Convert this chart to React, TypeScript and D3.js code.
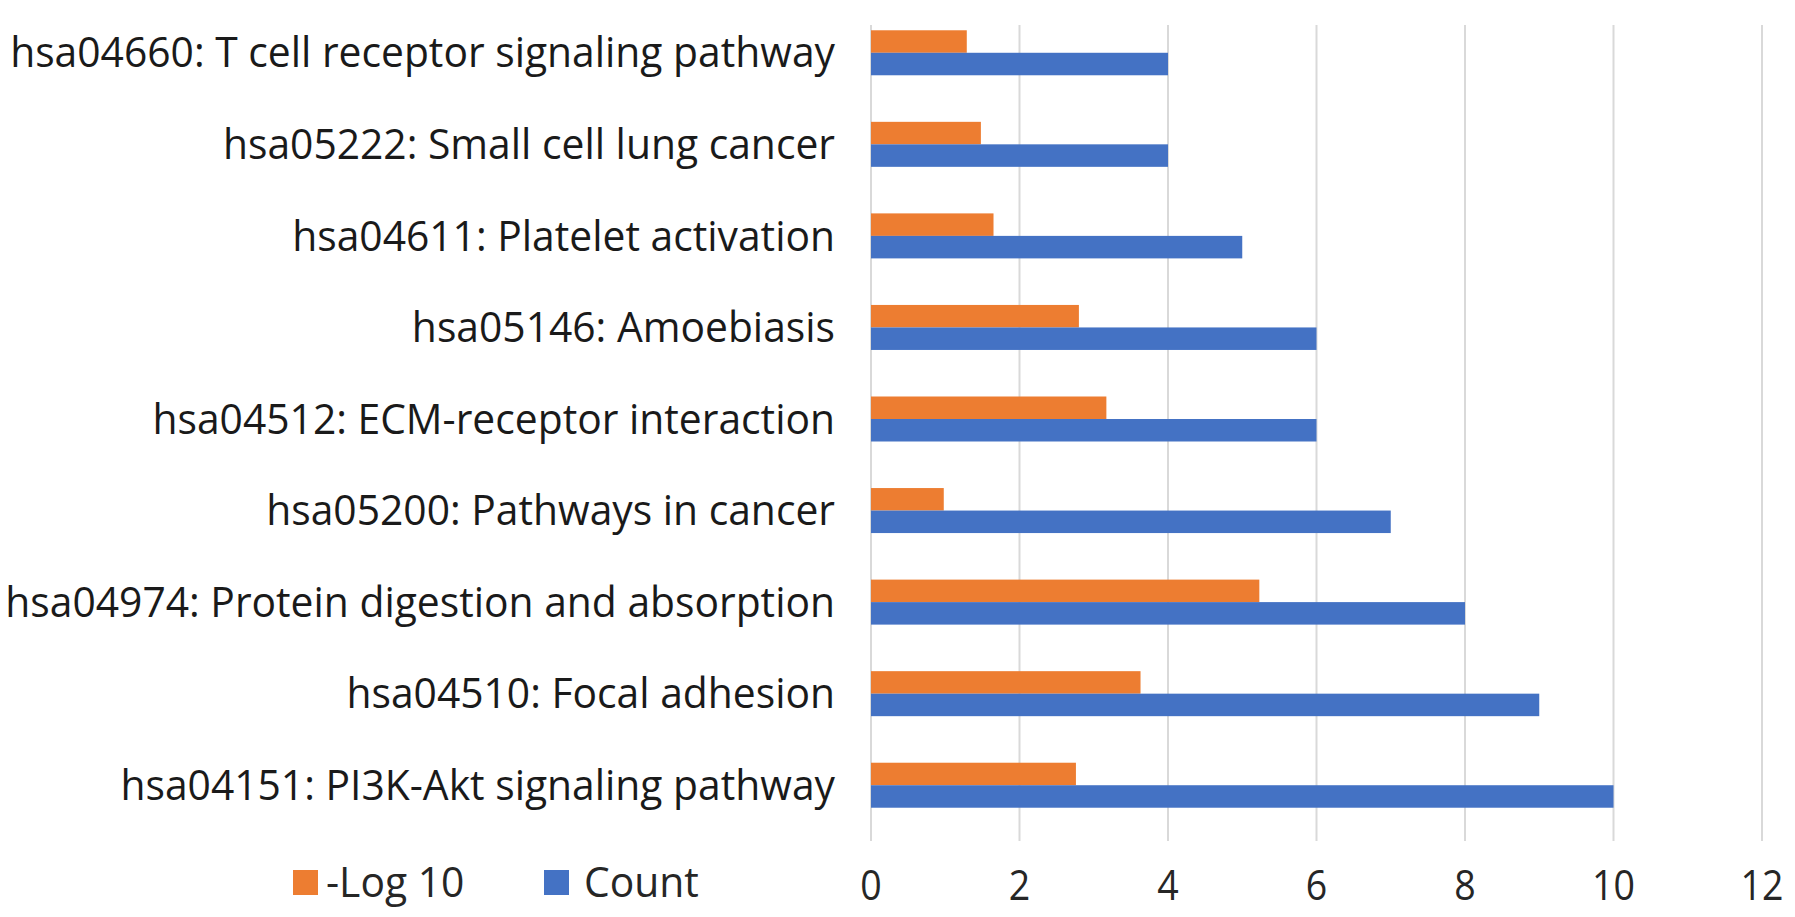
import { useRef, useEffect } from 'react';
import * as d3 from 'd3';

// categories top-to-bottom as they appear
const pathways = [
  'hsa04660: T cell receptor signaling pathway',
  'hsa05222: Small cell lung cancer',
  'hsa04611: Platelet activation',
  'hsa05146: Amoebiasis',
  'hsa04512: ECM-receptor interaction',
  'hsa05200: Pathways in cancer',
  'hsa04974: Protein digestion and absorption',
  'hsa04510: Focal adhesion',
  'hsa04151: PI3K-Akt signaling pathway',
];
const negLog10 = [1.29, 1.48, 1.65, 2.8, 3.17, 0.98, 5.23, 3.63, 2.76];
const counts = [4, 4, 5, 6, 6, 7, 8, 9, 10];
const seriesNames = ['-Log 10', 'Count'];
const xTicks = [0, 2, 4, 6, 8, 10, 12];

const ORANGE = '#ED7D31';
const BLUE = '#4472C4';
const FONT = '"Open Sans", "Noto Sans", sans-serif';

export default function App() {
  const svgRef = useRef<SVGSVGElement>(null);

  useEffect(() => {
    document.body.style.margin = '0';
    if (!svgRef.current) return;
    const svg = d3.select(svgRef.current);
    svg.selectAll('*').remove();

    const W = 1795, H = 917;
    const plotLeft = 871, plotRight = 1762;
    const gridTop = 25, gridBottom = 841;
    const fs = 42;

    const x = d3.scaleLinear().domain([0, 12]).range([plotLeft, plotRight]);
    const y = d3.scaleBand().domain(pathways).range([7, 831]).padding(0);
    const bw = y.bandwidth();
    const y1 = d3.scaleBand().domain(seriesNames).range([bw / 2 - 22.5, bw / 2 + 22.5]).padding(0);

    svg.append('rect').attr('width', W).attr('height', H).attr('fill', '#fff');

    // gridlines
    svg.append('g')
      .selectAll('line')
      .data(xTicks)
      .join('line')
      .attr('x1', d => x(d)).attr('x2', d => x(d))
      .attr('y1', gridTop).attr('y2', gridBottom)
      .attr('stroke', '#D9D9D9')
      .attr('stroke-width', 2);

    const rows = pathways.map((p, i) => ({ p, vals: [negLog10[i], counts[i]] }));
    const colors = [ORANGE, BLUE];

    const groups = svg.append('g')
      .selectAll('g')
      .data(rows)
      .join('g')
      .attr('transform', d => `translate(0,${y(d.p)})`);

    groups.selectAll('rect')
      .data(d => d.vals.map((v, k) => ({ v, k })))
      .join('rect')
      .attr('x', x(0))
      .attr('y', d => y1(seriesNames[d.k])!)
      .attr('width', d => x(d.v) - x(0))
      .attr('height', y1.bandwidth())
      .attr('fill', d => colors[d.k]);

    // category labels, squeezed horizontally to mimic a condensed face
    const labelG = svg.append('g');
    const labels = labelG.selectAll('text')
      .data(pathways)
      .join('text')
      .attr('x', 0)
      .attr('y', d => y(d)! + bw / 2)
      .attr('dy', '0.35em')
      .attr('text-anchor', 'end')
      .attr('fill', '#1a1a1a')
      .attr('font-size', fs)
      .attr('font-family', FONT)
      .text(d => d);
    let maxW = 0;
    labels.each(function () {
      maxW = Math.max(maxW, (this as SVGTextElement).getComputedTextLength());
    });
    const sx = maxW > 0 ? 830 / maxW : 1;
    labelG.attr('transform', `translate(835,0) scale(${sx},1)`);

    // x tick labels
    const tickG = svg.append('g').attr('transform', `translate(0,885)`);
    tickG.selectAll('text')
      .data(xTicks)
      .join('text')
      .attr('x', d => x(d))
      .attr('dy', '0.35em')
      .attr('text-anchor', 'middle')
      .attr('fill', '#262626')
      .attr('font-size', fs)
      .attr('font-family', FONT)
      .attr('transform', d => `translate(${x(d)},0) scale(${sx * 0.92},1) translate(${-x(d)},0)`)
      .text(d => String(d));

    // legend
    const legendItems = [
      { name: seriesNames[0], color: ORANGE, sq: 293, tx: 326 },
      { name: seriesNames[1], color: BLUE, sq: 544, tx: 584 },
    ];
    const lg = svg.append('g');
    legendItems.forEach(item => {
      lg.append('rect').attr('x', item.sq).attr('y', 870).attr('width', 25).attr('height', 25).attr('fill', item.color);
      lg.append('text')
        .attr('x', 0).attr('y', 0)
        .attr('dy', '0.35em')
        .attr('transform', `translate(${item.tx},882) scale(${sx},1)`)
        .attr('fill', '#262626')
        .attr('font-size', fs)
        .attr('font-family', FONT)
        .text(item.name);
    });
  }, []);

  return <svg ref={svgRef} width={1795} height={917} style={{ display: 'block' }} />;
}
